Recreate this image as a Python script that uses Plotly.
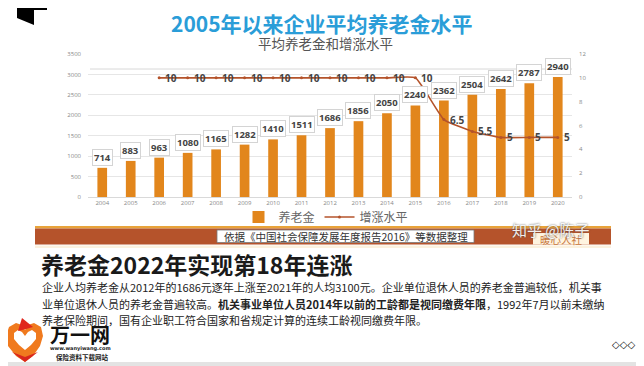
import plotly.graph_objects as go

# ---------------- data ----------------
years = [str(y) for y in range(2004, 2021)]
pension = [714, 883, 963, 1080, 1165, 1282, 1410, 1511, 1686, 1856, 2050, 2240, 2362, 2504, 2642, 2787, 2940]
rate_years = [str(y) for y in range(2006, 2021)]
rate = [10, 10, 10, 10, 10, 10, 10, 10, 10, 10, 6.5, 5.5, 5, 5, 5]
left_ticks = [0, 500, 1000, 1500, 2000, 2500, 3000, 3500]
right_ticks = [0, 2, 4, 6, 8, 10, 12]

title_text = "2005年以来企业平均养老金水平"
subtitle_text = "平均养老金和增涨水平"
source_text = "依据《中国社会保障发展年度报告2016》等数据整理"
heading_text = "养老金2022年实现第18年连涨"
para_lines = [
    "企业人均养老金从2012年的1686元逐年上涨至2021年的人均3100元。企业单位退休人员的养老金普遍较低，机关事",
    "业单位退休人员的养老金普遍较高。<b>机关事业单位人员2014年以前的工龄都是视同缴费年限</b>，1992年7月以前未缴纳",
    "养老保险期间，国有企业职工符合国家和省规定计算的连续工龄视同缴费年限。",
]

# ---------------- geometry helpers (screen pixel coords) ----------------
W, H = 644, 366
OFF = 8  # page body offset of the figure
L, R, T, B = 88, 572, 54, 197  # plot area in screen pixels


def px(x):
    return (x - L) / (R - L)


def py(y):
    return (B - y) / (B - T)


def path(points):
    return "M " + " L ".join(f"{px(x):.5f},{py(y):.5f}" for x, y in points) + " Z"


CJK = "Noto Sans CJK SC"
BAR_C = "#E2861C"
LINE_C = "#B4532B"

fig = go.Figure()
fig.add_trace(go.Bar(
    x=years, y=pension, name="养老金", marker=dict(color=BAR_C, line=dict(width=0)),
    yaxis="y",
))
fig.add_trace(go.Scatter(
    x=rate_years, y=rate, name="增涨水平", mode="lines+markers", yaxis="y2",
    line=dict(color=LINE_C, width=1.6, shape="spline", smoothing=0.4),
    marker=dict(color=LINE_C, size=3),
))

shapes = []
annotations = []


def rect(x0, y0, x1, y1, fill, line=None, layer="above"):
    shapes.append(dict(type="rect", xref="paper", yref="paper", x0=px(x0), x1=px(x1), y0=py(y0), y1=py(y1),
                       fillcolor=fill, line=line or dict(width=0), layer=layer))


def text(x, y, t, size, color, family=CJK, xa="center", ya="middle", **kw):
    annotations.append(dict(x=px(x), y=py(y), xref="paper", yref="paper", text=t, showarrow=False,
                            xanchor=xa, yanchor=ya, font=dict(family=family, size=size, color=color, **kw)))


# slide frame
rect(4, 3, 639, 362, "white", layer="below")
# black corner mark
shapes.append(dict(type="path", xref="paper", yref="paper",
                   path=path([(17, 1), (47, 1), (47, 10), (34, 10), (34, 25), (17, 18)]),
                   fillcolor="black", line=dict(width=0)))
# faint extra horizontal line in chart
shapes.append(dict(type="line", xref="paper", yref="paper", x0=px(90), x1=px(572), y0=py(69), y1=py(69),
                   line=dict(color="#d8d8d8", width=1), layer="below"))
# brown band
rect(35, 226, 611, 228.5, "#E8A33A")
rect(35, 228.5, 611, 244.5, "#B5532B")
rect(35, 245.5, 611, 248, "#FBF1DE")
# source box
rect(217, 230, 474, 242.5, "white", line=dict(color="#7a7a7a", width=0.8))
# 暖心人社 box
rect(533, 233, 589, 244.5, "#FFF4E0")

# logo heart
heart_outer = [(25, 362), (16, 356), (8, 346), (6, 336), (9, 327), (16, 323), (22, 325), (25, 330),
               (28, 325), (34, 323), (41, 327), (43, 336), (40, 346), (33, 356)]
shapes.append(dict(type="path", xref="paper", yref="paper", path=path(heart_outer),
                   fillcolor="#F07A1E", line=dict(width=0)))
heart_inner = [(25, 350), (19, 345), (14, 339), (14, 333), (18, 330), (22, 332), (25, 336),
               (28, 332), (32, 330), (36, 333), (36, 339), (31, 345)]
shapes.append(dict(type="path", xref="paper", yref="paper", path=path(heart_inner),
                   fillcolor="white", line=dict(width=0)))
shapes.append(dict(type="path", xref="paper", yref="paper",
                   path=path([(18, 331), (22, 318), (33, 327), (26, 329)]),
                   fillcolor="#E0261E", line=dict(width=0)))
shapes.append(dict(type="path", xref="paper", yref="paper",
                   path=path([(12, 352), (25, 362), (38, 352), (25, 357)]),
                   fillcolor="#D9261E", line=dict(width=0)))

# bar value labels (category index positions)
for i, v in enumerate(pension):
    annotations.append(dict(
        x=i, y=v, xref="x", yref="y", text=f"<b>{v}</b>", showarrow=False,
        xanchor="center", yanchor="bottom", yshift=2, bgcolor="white", bordercolor="#d4d4d4",
        borderwidth=1, borderpad=1,
        font=dict(family="Open Sans, DejaVu Sans", size=9.5, color="#444444"),
    ))
# line value labels
offset = years.index(rate_years[0])
for i, v in enumerate(rate):
    annotations.append(dict(
        x=i + offset, y=v, xref="x", yref="y2", text=f"<b>{v:g}</b>", showarrow=False,
        xanchor="left", yanchor="middle", xshift=4,
        font=dict(family="Open Sans, DejaVu Sans", size=10, color="#444444"),
    ))

# titles
text(322, 23, f"<b>{title_text}</b>", 21, "#2A9DD8")
text(325, 43, subtitle_text, 13.5, "#555555")
# band texts
text(345.5, 236.5, source_text, 10.5, "#333333")
text(561, 239, "暖心人社", 10.5, "#C8783E")
text(551, 229, "知乎 @陈子", 15, "rgba(255,255,255,0.92)", shadow="0px 0px 2px #444")
# heading and paragraph
text(39, 264, f"<b>{heading_text}</b>", 23, "#1a1a1a", xa="left")
for i, ln in enumerate(para_lines):
    text(40, 287 + 16.5 * i, ln, 11, "#222222", xa="left")
# logo texts
text(80, 334, "<b>万一网</b>", 20, "#111111")
text(80, 348.5, "<b>www.wanyiwang.com</b>", 5, "#222222", family="DejaVu Sans")
text(82, 357, "<b>保险资料下载网站</b>", 6.5, "#222222")
text(623, 344, "<b>◇◇◇</b>", 10, "#111111", family="DejaVu Sans")

fig.update_layout(
    width=W, height=H, autosize=False,
    margin=dict(l=L - OFF, r=W - (R - OFF), t=T - OFF, b=H - (B - OFF), pad=0, autoexpand=False),
    paper_bgcolor="#E3E3E3", plot_bgcolor="rgba(0,0,0,0)",
    bargap=0.66,
    showlegend=True,
    legend=dict(orientation="h", x=px(326), xanchor="center", y=py(217), yanchor="middle",
                font=dict(family=CJK, size=12, color="#666666"), bgcolor="rgba(0,0,0,0)",
                itemwidth=30, tracegroupgap=0),
    xaxis=dict(type="category", range=[-0.5, len(years) - 0.5], autorange=False,
               showgrid=False, showline=True, linecolor="#d9d9d9", ticks="",
               tickfont=dict(family="Open Sans", size=6, color="#888888")),
    yaxis=dict(range=[0, 3500], tickvals=left_ticks, showgrid=True, gridcolor="#e6e6e6", gridwidth=1,
               zeroline=False, ticks="", ticklabelstandoff=6,
               tickfont=dict(family="Open Sans", size=6, color="#888888")),
    yaxis2=dict(range=[0, 12], tickvals=right_ticks, overlaying="y", side="right", showgrid=False,
                zeroline=False, ticks="", ticklabelstandoff=6,
                tickfont=dict(family="Open Sans", size=6, color="#888888")),
    shapes=shapes, annotations=annotations,
)

fig.write_html("out.html")
